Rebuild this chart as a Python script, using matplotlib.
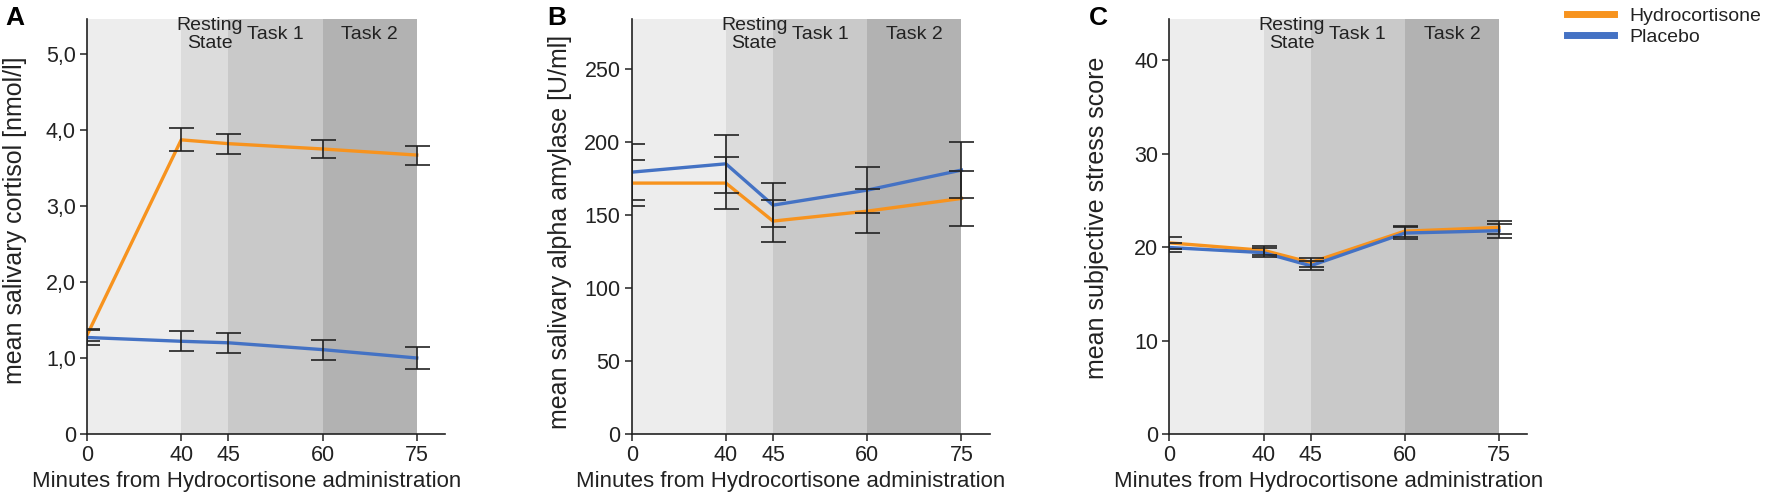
import numpy as np
import matplotlib
matplotlib.use('Agg')
import matplotlib.pyplot as plt
from matplotlib.lines import Line2D

plt.rcParams['font.family'] = ['Liberation Sans', 'DejaVu Sans']
plt.rcParams['text.color'] = '#222222'
plt.rcParams['axes.labelcolor'] = '#222222'
plt.rcParams['xtick.color'] = '#222222'
plt.rcParams['ytick.color'] = '#222222'

# sampling times (minutes) and phase boundaries
minutes = [0, 40, 45, 60, 75]
phase_edges = [0, 40, 45, 60, 75]
phase_names = ['', 'Resting\nState', 'Task 1', 'Task 2']

# A: salivary cortisol [nmol/l]
cort_hc = [1.30, 3.87, 3.82, 3.75, 3.67]
cort_hc_err = [0.08, 0.15, 0.13, 0.12, 0.125]
cort_pl = [1.27, 1.22, 1.20, 1.11, 1.00]
cort_pl_err = [0.10, 0.13, 0.13, 0.13, 0.14]

# B: salivary alpha amylase [U/ml]
amy_hc = [171.7, 171.7, 145.7, 152.5, 161.2]
amy_hc_err = [16, 18, 14.6, 15, 19]
amy_pl = [179.2, 184.9, 156.6, 166.9, 180.6]
amy_pl_err = [19, 20, 15, 16, 19]

# C: subjective stress score
stress_hc = [20.45, 19.65, 18.35, 21.7, 22.1]
stress_hc_err = [0.62, 0.48, 0.45, 0.6, 0.7]
stress_pl = [19.95, 19.4, 18.0, 21.5, 21.75]
stress_pl_err = [0.52, 0.48, 0.48, 0.6, 0.75]

ORANGE = '#F7931E'
BLUE = '#4472C4'
SHADES = ['#EDEDED', '#DCDCDC', '#C9C9C9', '#B2B2B2']

# the time axis is drawn piecewise: 0-40, 40-45, 45-60, 60-75
knots_min = np.array([0, 40, 45, 60, 75], float)
knots_pos = np.array([0, 2, 3, 5, 7], float)


def _piecewise(x, xs, ys):
    x = np.asarray(x, float)
    y = np.interp(x, xs, ys)
    hi = ys[-1] + (x - xs[-1]) * (ys[-1] - ys[-2]) / (xs[-1] - xs[-2])
    lo = ys[0] + (x - xs[0]) * (ys[1] - ys[0]) / (xs[1] - xs[0])
    y = np.where(x > xs[-1], hi, y)
    y = np.where(x < xs[0], lo, y)
    return y


def fwd(x):
    return _piecewise(x, knots_min, knots_pos)


def inv(x):
    return _piecewise(x, knots_pos, knots_min)


def draw_panel(ax, hc, hc_err, pl, pl_err, ymax, yticks, yticklabels, ylabel,
               ylabel_y):
    ax.set_xscale('function', functions=(fwd, inv))
    ax.set_xlim(0, 79.5)
    ax.set_ylim(0, ymax)

    for i in range(4):
        ax.axvspan(phase_edges[i], phase_edges[i + 1], color=SHADES[i],
                   lw=0, zorder=0)
    for i in range(1, 4):
        xc = (phase_edges[i] + phase_edges[i + 1]) / 2
        if i == 1:
            xc = 43
        ax.text(xc, 0.963, phase_names[i], transform=ax.get_xaxis_transform(),
                ha='center', va='center', fontsize=14, linespacing=1.05,
                zorder=5)

    ax.plot(minutes, hc, color=ORANGE, lw=2.4, zorder=3)
    ax.plot(minutes, pl, color=BLUE, lw=2.4, zorder=3)
    for y, e in [(hc, hc_err), (pl, pl_err)]:
        ax.errorbar(minutes, y, yerr=e, fmt='none', ecolor='#222222',
                    elinewidth=1.2, capsize=9, capthick=1.2, zorder=4)

    ax.set_xticks(minutes)
    ax.set_xticklabels([str(m) for m in minutes])
    ax.set_yticks(yticks)
    ax.set_yticklabels(yticklabels)
    ax.tick_params(axis='both', labelsize=15.5, length=5, width=1.1,
                   direction='out', pad=3)

    for s in ['top', 'right']:
        ax.spines[s].set_visible(False)
    for s in ['left', 'bottom']:
        ax.spines[s].set_linewidth(1.2)
        ax.spines[s].set_color('#222222')

    # xlabel is top-anchored, ylabel is anchored on its right side
    ax.set_xlabel('Minutes from Hydrocortisone administration', fontsize=16)
    ax.xaxis.set_label_coords(0.445, -0.088)
    ax.set_ylabel(ylabel, fontsize=18)
    ax.yaxis.set_label_coords(-0.168, ylabel_y)


fig = plt.figure(figsize=(17.72, 4.99), dpi=100)
bottom = 65 / 499
height = 415 / 499
width = 358 / 1772
lefts = [87 / 1772, 631.7 / 1772, 1169.3 / 1772]

axA = fig.add_axes([lefts[0], bottom, width, height])
draw_panel(axA, cort_hc, cort_hc_err, cort_pl, cort_pl_err, 5.46,
           [0, 1, 2, 3, 4, 5], ['0', '1,0', '2,0', '3,0', '4,0', '5,0'],
           'mean salivary cortisol [nmol/l]', 0.516)

axB = fig.add_axes([lefts[1], bottom, width, height])
draw_panel(axB, amy_hc, amy_hc_err, amy_pl, amy_pl_err, 284,
           [0, 50, 100, 150, 200, 250], ['0', '50', '100', '150', '200', '250'],
           'mean salivary alpha amylase [U/ml]', 0.487)

axC = fig.add_axes([lefts[2], bottom, width, height])
draw_panel(axC, stress_hc, stress_hc_err, stress_pl, stress_pl_err, 44.4,
           [0, 10, 20, 30, 40], ['0', '10', '20', '30', '40'],
           'mean subjective stress score', 0.52)

for letter, xp in [('A', 15), ('B', 557), ('C', 1098)]:
    fig.text(xp / 1772, 1 - 18 / 499, letter, fontsize=19, fontweight='bold',
             ha='center', va='center', color='black')

handles = [Line2D([], [], color=ORANGE, lw=5),
           Line2D([], [], color=BLUE, lw=5)]
fig.legend(handles, ['Hydrocortisone', 'Placebo'], loc='upper left',
           bbox_to_anchor=(1567 / 1772, 1 - 7 / 499), frameon=False,
           fontsize=14, handlelength=2.4, handletextpad=0.8,
           labelspacing=0.2, borderpad=0, borderaxespad=0)

fig.savefig('out.png', dpi=100)
